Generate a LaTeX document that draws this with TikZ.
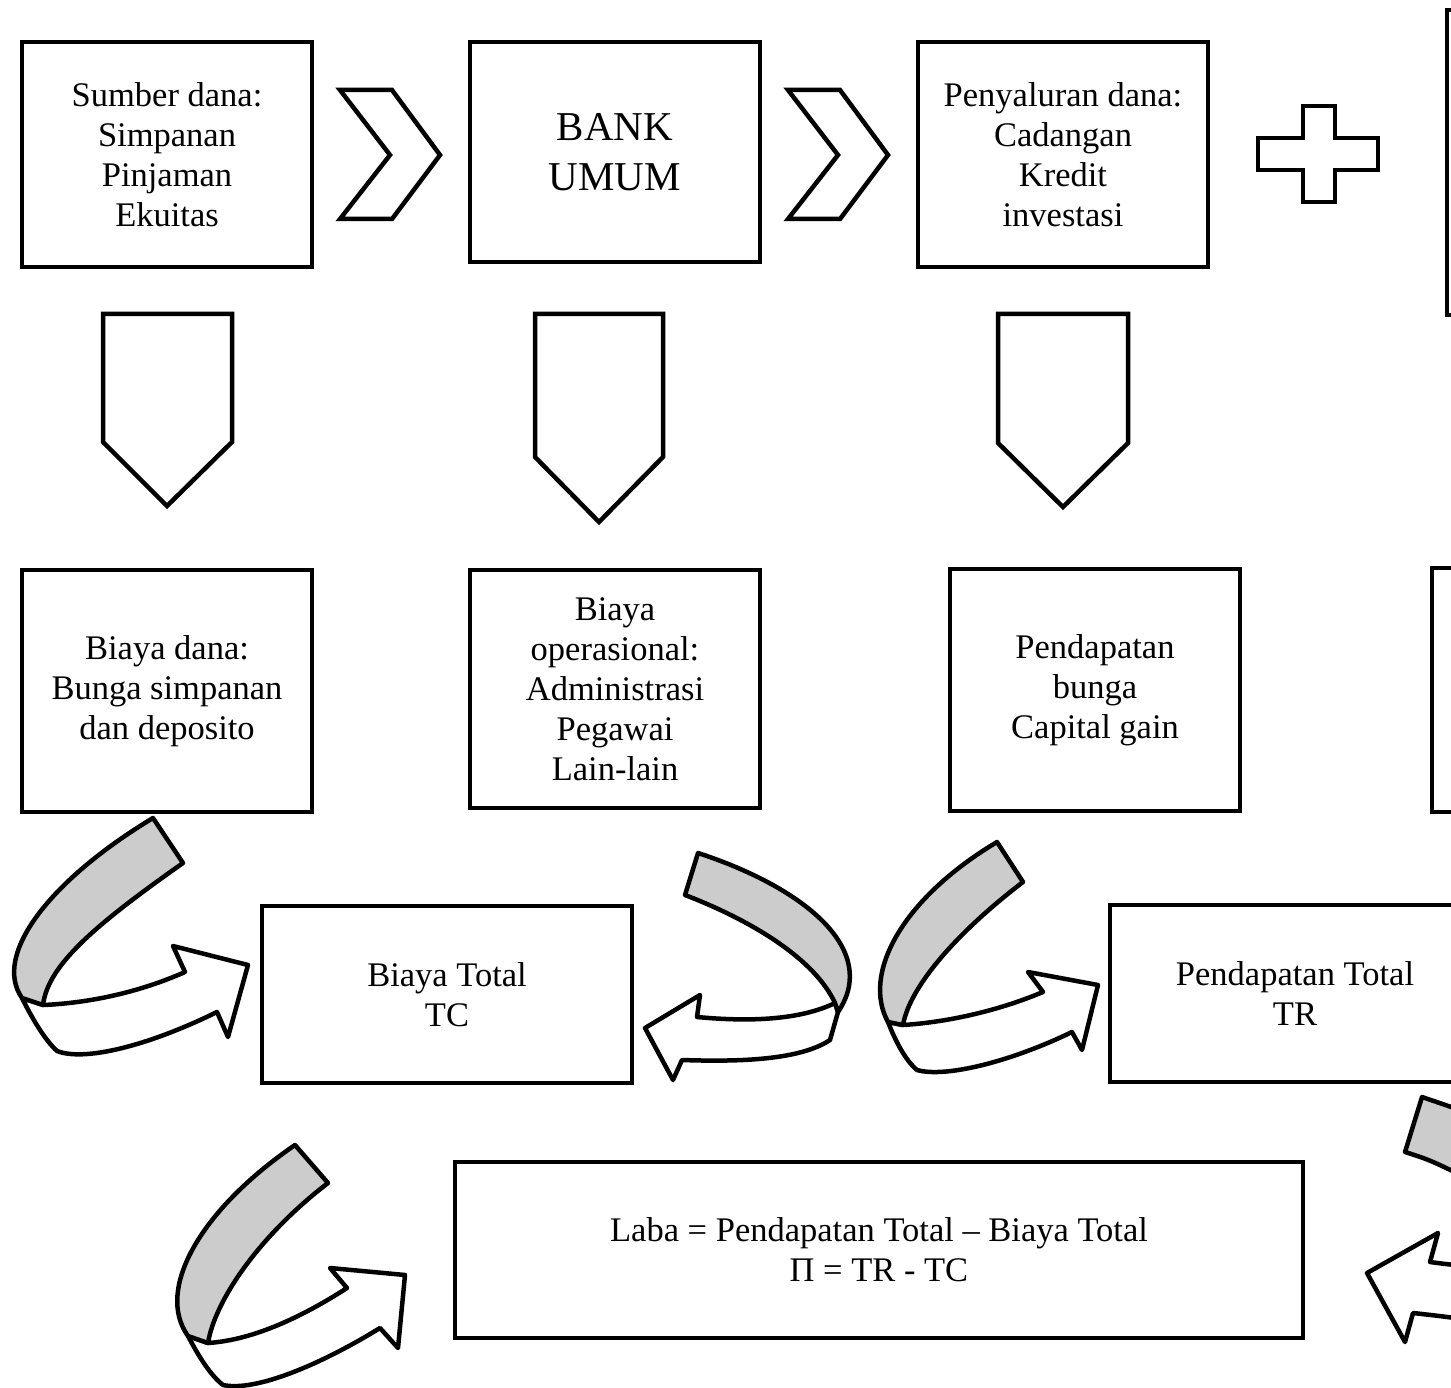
\documentclass[tikz,border=0pt]{standalone}
\usepackage{fontspec}
\setmainfont{Liberation Serif}
\definecolor{bandgray}{HTML}{CCCCCC}
\tikzset{
  box/.style={draw, line width=4.5pt, rectangle, align=center, inner sep=0pt, fill=white,
              font=\fontsize{34.5}{40}\selectfont},
  blockshape/.style={draw, line width=4.5pt, fill=white, line join=miter},
  band/.style={draw, line width=4.5pt, fill=bandgray, line join=round},
  ribbon/.style={draw, line width=4.5pt, fill=white, line join=round},
}
\begin{document}
\begin{tikzpicture}[x=1pt,y=-1pt]
\useasboundingbox (0,0) rectangle (1451,1388);
\clip (0,0) rectangle (1451,1388);

% ---- row 1 boxes
\node[box, minimum width=290pt, minimum height=225pt] (src) at (167,154.5)
  {Sumber dana:\\Simpanan\\Pinjaman\\Ekuitas};
\node[box, minimum width=290pt, minimum height=220pt, font=\fontsize{41}{50}\selectfont] (bank) at (615,152)
  {BANK\\UMUM};
\node[box, minimum width=290pt, minimum height=225pt] (use) at (1063,154.5)
  {Penyaluran dana:\\Cadangan\\Kredit\\investasi};
\node[box, minimum width=290pt, minimum height=305pt] (extra) at (1592,162.5) {};

% chevrons
\draw[blockshape] (340,90) -- (392,90) -- (440,155) -- (392,219) -- (340,219) -- (390,155) -- cycle;
\draw[blockshape] (788,90) -- (840,90) -- (888,155) -- (840,219) -- (788,219) -- (838,155) -- cycle;

% plus sign
\draw[blockshape] (1303,106) -- (1335,106) -- (1335,138) -- (1378,138) -- (1378,170) -- (1335,170)
  -- (1335,202) -- (1303,202) -- (1303,170) -- (1258,170) -- (1258,138) -- (1303,138) -- cycle;

% down arrows
\draw[blockshape] (103,314) -- (232,314) -- (232,442) -- (167,506) -- (103,442) -- cycle;
\draw[blockshape] (535,314) -- (663,314) -- (663,457) -- (599,522) -- (535,457) -- cycle;
\draw[blockshape] (998,314) -- (1128,314) -- (1128,443) -- (1063,507) -- (998,443) -- cycle;

% ---- row 2 boxes
\node[box, minimum width=290pt, minimum height=242pt] (cost) at (167,691)
  {\raisebox{-3pt}{\parbox{280pt}{\centering Biaya dana:\\Bunga simpanan\\dan deposito}}};
\node[box, minimum width=290pt, minimum height=238pt] (opex) at (615,689)
  {Biaya\\operasional:\\Administrasi\\Pegawai\\Lain-lain};
\node[box, minimum width=290pt, minimum height=242pt] (income) at (1095,690)
  {\raisebox{-3pt}{\parbox{280pt}{\centering Pendapatan\\bunga\\Capital gain}}};
\node[box, minimum width=290pt, minimum height=244pt] (other) at (1577,690) {};

% ---- row 3 boxes
\node[box, minimum width=370pt, minimum height=177pt] (tc) at (447,994.5)
  {Biaya Total\\TC};
\node[box, minimum width=370pt, minimum height=177pt] (tr) at (1295,993.5)
  {Pendapatan Total\\TR};

% ---- row 4 box
\node[box, minimum width=848pt, minimum height=176pt] (laba) at (879,1250)
  {Laba = Pendapatan Total – Biaya Total\\Π = TR - TC};

% ---- curved arrow 1 (to TC)
\draw[ribbon] (22,998) -- (43,1005) .. controls (90,1003) and (140,992) .. (185,972)
  -- (173,946) -- (248,965) -- (228,1037) -- (217,1012)
  .. controls (150,1045) and (85,1062) .. (57,1051)
  .. controls (45,1040) and (33,1020) .. (22,998) -- cycle;
\draw[band] (153,818) -- (183,863) .. controls (95,925) and (48,965) .. (43,1005)
  -- (22,998) .. controls (-8,955) and (50,880) .. (153,818) -- cycle;

% ---- curved arrow 2 (to TC, from the right)
\draw[ribbon] (835,1003) .. controls (800,1020) and (750,1022) .. (697,1017)
  -- (700,995) -- (645,1028) -- (673,1080) -- (682,1060)
  .. controls (740,1062) and (800,1060) .. (830,1040) -- (838,1012) -- cycle;
\draw[band] (698,853) -- (685,895) .. controls (755,922) and (815,960) .. (835,1003)
  -- (838,1012) .. controls (880,950) and (805,888) .. (698,853) -- cycle;

% ---- curved arrow 3 (to TR)
\draw[ribbon] (888,1022) -- (903,1025) .. controls (950,1022) and (1000,1010) .. (1043,992)
  -- (1028,972) -- (1098,985) -- (1082,1050) -- (1072,1032)
  .. controls (1010,1062) and (945,1078) .. (917,1070)
  .. controls (905,1060) and (895,1040) .. (888,1022) -- cycle;
\draw[band] (997,842) -- (1023,882) .. controls (960,930) and (910,985) .. (903,1025)
  -- (888,1022) .. controls (862,975) and (900,900) .. (997,842) -- cycle;

% ---- curved arrow 4 (to Laba)
\draw[ribbon] (188,1336) -- (208,1343) .. controls (255,1340) and (305,1315) .. (347,1288)
  -- (330,1268) -- (405,1275) -- (398,1348) -- (380,1328)
  .. controls (320,1365) and (255,1392) .. (223,1385)
  .. controls (210,1375) and (198,1355) .. (188,1336) -- cycle;
\draw[band] (295,1145) -- (328,1183) .. controls (260,1235) and (215,1300) .. (208,1343)
  -- (188,1336) .. controls (155,1290) and (200,1210) .. (295,1145) -- cycle;

% ---- curved arrow 5 (to Laba, from the right, partly outside)
\draw[band] (1422,1097) -- (1405,1152) .. controls (1430,1160) .. (1475,1182)
  -- (1485,1118) .. controls (1460,1110) .. (1422,1097) -- cycle;
\draw[ribbon] (1485,1262) .. controls (1460,1266) .. (1430,1262) -- (1438,1233)
  -- (1367,1273) -- (1405,1342) -- (1413,1313) .. controls (1440,1316) .. (1485,1322) -- cycle;

\end{tikzpicture}
\end{document}
